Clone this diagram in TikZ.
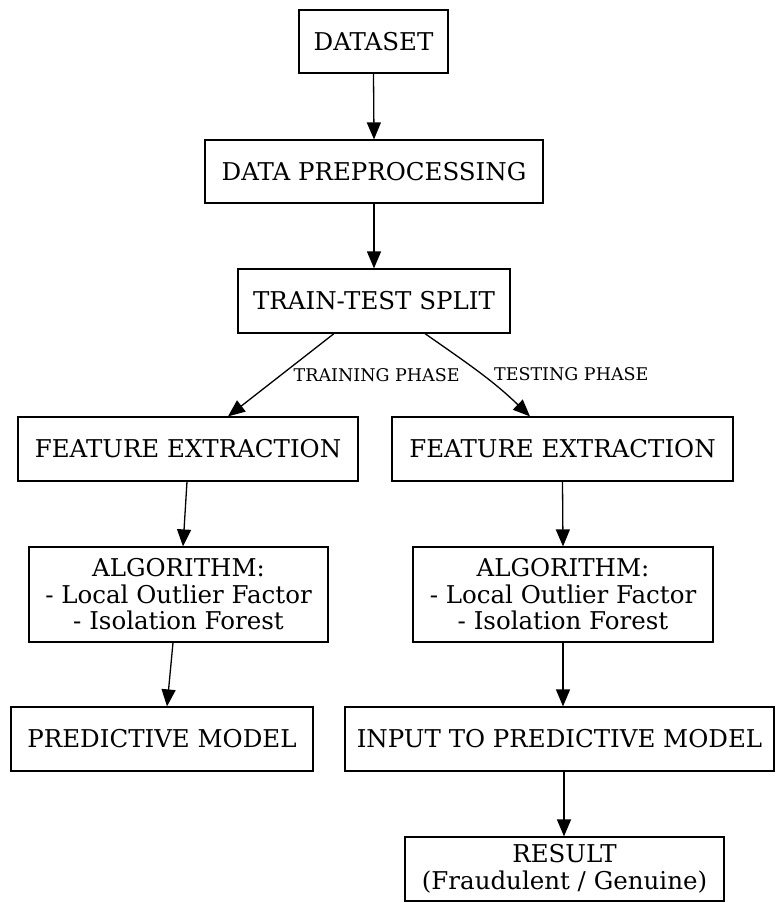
\documentclass[tikz,border=0pt]{standalone}
\usepackage{fontspec}
\setmainfont{DejaVu Serif}
\usetikzlibrary{arrows.meta}
\begin{document}
\begin{tikzpicture}[x=1pt,y=-1pt,
  box/.style={draw, line width=1.2pt, inner sep=0pt, align=center,
    font=\fontsize{24.5}{26.5}\selectfont},
  edge/.style={line width=1.3pt, -{Triangle[length=17pt,width=14pt]}},
  lab/.style={font=\fontsize{17.5}{19}\selectfont, inner sep=0pt, anchor=west}]
\useasboundingbox (0,0) rectangle (776,903);
\node[box, minimum width=149pt, minimum height=63pt] (ds) at (373.5,41.5) {DATASET};
\node[box, minimum width=338pt, minimum height=63pt] (pre) at (374,171.5) {DATA PREPROCESSING};
\node[box, minimum width=272pt, minimum height=64pt] (split) at (374,301) {TRAIN-TEST SPLIT};
\node[box, minimum width=340pt, minimum height=64pt] (feL) at (188,449) {FEATURE EXTRACTION};
\node[box, minimum width=341pt, minimum height=64pt] (feR) at (562.5,449) {FEATURE EXTRACTION};
\node[box, minimum width=299pt, minimum height=95pt] (algL) at (178.5,594.5) {ALGORITHM:\\- Local Outlier Factor\\- Isolation Forest};
\node[box, minimum width=300pt, minimum height=95pt] (algR) at (563,594.5) {ALGORITHM:\\- Local Outlier Factor\\- Isolation Forest};
\node[box, minimum width=302pt, minimum height=64pt] (pm) at (162,739) {PREDICTIVE MODEL};
\node[box, minimum width=429pt, minimum height=64pt] (inp) at (559.5,739) {INPUT TO PREDICTIVE MODEL};
\node[box, minimum width=319pt, minimum height=64pt] (res) at (564.5,869) {RESULT\\(Fraudulent / Genuine)};

\draw[edge] (ds.south) -- (pre.north);
\draw[edge] (pre.south) -- (split.north);
\draw[edge] ([xshift=-40pt]split.south) -- node[lab, pos=0.5, xshift=12pt] (lt) {TRAINING PHASE} ([xshift=40pt]feL.north);
\draw[edge] ([xshift=51pt]split.south) to[out=-35, in=136] node[lab, pos=0.5, xshift=14pt, yshift=-1pt] (lr) {TESTING PHASE} ([xshift=-32.5pt]feR.north);
\draw[edge] ([xshift=-1pt]feL.south) -- ([xshift=4.5pt]algL.north);
\draw[edge] (feR.south) -- (algR.north);
\draw[edge] ([xshift=-5.5pt]algL.south) -- ([xshift=5pt]pm.north);
\draw[edge] (algR.south) -- ([xshift=3.5pt]inp.north);
\draw[edge] ([xshift=4.5pt]inp.south) -- ([xshift=-0.5pt]res.north);
\end{tikzpicture}
\end{document}
